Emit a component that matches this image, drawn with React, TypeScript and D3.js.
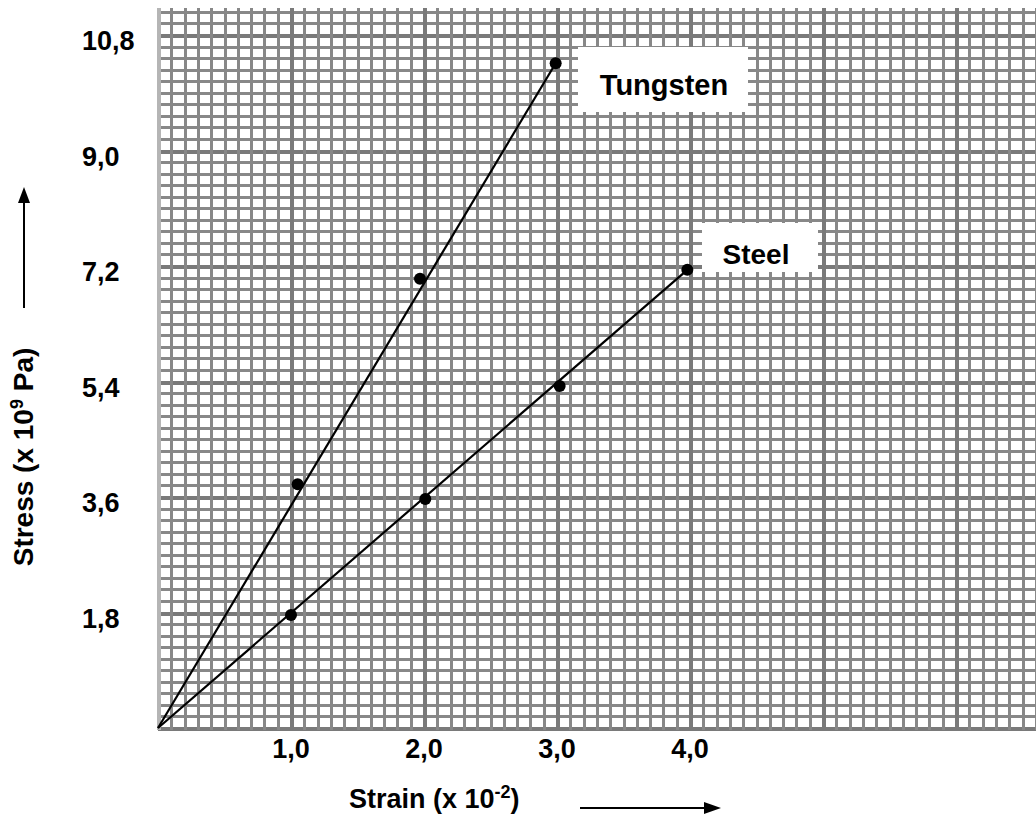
import React from "react";
import * as d3 from "d3";

// ---- data ----
const tungstenStrain = [1.05, 1.97, 2.99];
const tungstenStress = [3.8, 7.0, 10.36];
const steelStrain = [1.0, 2.01, 3.02, 3.98];
const steelStress = [1.76, 3.57, 5.33, 7.14];

const xTickValues = [1, 2, 3, 4];
const xTickLabels = ["1,0", "2,0", "3,0", "4,0"];
const yTickValues = [1.8, 3.6, 5.4, 7.2, 9.0, 10.8];
const yTickLabels = ["1,8", "3,6", "5,4", "7,2", "9,0", "10,8"];

const seriesNames = ["Tungsten", "Steel"];

const W = 1036;
const H = 823;
const FONT = "'Liberation Sans', Arial, sans-serif";

export default function App() {
  const x = d3.scaleLinear().domain([0, 6.6]).range([158, 158 + 6.6 * 133]);
  const y = d3.scaleLinear().domain([0, 10.8]).range([728, 35]);
  const gridTop = 8;

  const vLines = d3.range(0, 67);
  const hLines = d3.range(0, 63);

  const line = d3
    .line<[number, number]>()
    .x((d) => x(d[0]))
    .y((d) => y(d[1]));

  const series = [
    { name: seriesNames[0], xs: tungstenStrain, ys: tungstenStress },
    { name: seriesNames[1], xs: steelStrain, ys: steelStress },
  ];

  const boxes = [
    { name: seriesNames[0], x0: 578, x1: 748, y0: 47, y1: 112, tx: 664, ty: 95, fs: 29 },
    { name: seriesNames[1], x0: 702, x1: 818, y0: 223, y1: 272, tx: 756, ty: 264, fs: 28 },
  ];

  const gridColor = "#888888";

  return (
    <svg
      width={W}
      height={H}
      style={{ position: "absolute", left: 0, top: 0, background: "#fff" }}
      fontFamily={FONT}
    >
      <rect x={0} y={0} width={W} height={H} fill="#fff" />
      {/* grid */}
      <g shapeRendering="crispEdges">
        {hLines.map((j) => {
          const yy = Math.round(y(j * 0.18)) + 0.5;
          const major = j % 10 === 0;
          return (
            <line
              key={"h" + j}
              x1={x(0)}
              x2={W}
              y1={yy}
              y2={yy}
              stroke={major ? "#7a7a7a" : gridColor}
              strokeWidth={major ? 4 : 3}
            />
          );
        })}
        {vLines.map((i) => {
          const xx = Math.round(x(i * 0.1)) + 0.5;
          const major = i % 10 === 0;
          return (
            <line
              key={"v" + i}
              x1={xx}
              x2={xx}
              y1={gridTop}
              y2={Math.round(y(0)) + 2}
              stroke={i === 0 ? "#b5b5b5" : major ? "#7a7a7a" : gridColor}
              strokeWidth={major ? 4 : 3}
            />
          );
        })}
      </g>
      {/* label boxes */}
      {boxes.map((b) => (
        <rect
          key={"b" + b.name}
          x={b.x0}
          y={b.y0}
          width={b.x1 - b.x0}
          height={b.y1 - b.y0}
          fill="#fff"
        />
      ))}
      {boxes.map((b) => (
        <text
          key={"t" + b.name}
          x={b.tx}
          y={b.ty}
          textAnchor="middle"
          fontWeight="bold"
          fontSize={b.fs}
          fill="#000"
        >
          {b.name}
        </text>
      ))}
      {/* lines */}
      {series.map((s) => {
        const n = s.xs.length - 1;
        const pts: [number, number][] = [
          [0, 0],
          [s.xs[n], s.ys[n]],
        ];
        return (
          <path
            key={"l" + s.name}
            d={line(pts) || ""}
            fill="none"
            stroke="#000"
            strokeWidth={2.2}
          />
        );
      })}
      {series.map((s) =>
        s.xs.map((v, i) => (
          <circle
            key={"c" + s.name + i}
            cx={x(v)}
            cy={y(s.ys[i])}
            r={6}
            fill="#000"
          />
        ))
      )}
      {/* tick labels */}
      {xTickValues.map((v, i) => (
        <text
          key={"xt" + i}
          x={x(v)}
          y={758}
          textAnchor="middle"
          fontWeight="bold"
          fontSize={27}
        >
          {xTickLabels[i]}
        </text>
      ))}
      {yTickValues.map((v, i) => (
        <text
          key={"yt" + i}
          x={82}
          y={y(v) + 15}
          textAnchor="start"
          fontWeight="bold"
          fontSize={27}
        >
          {yTickLabels[i]}
        </text>
      ))}
      {/* x title */}
      <text x={349} y={808} fontWeight="bold" fontSize={27}>
        Strain (x 10
        <tspan dy={-10} fontSize={18}>
          -2
        </tspan>
        <tspan dy={10}>)</tspan>
      </text>
      <line x1={580} x2={706} y1={808} y2={808} stroke="#000" strokeWidth={2} />
      <path d="M704,802 L721,808 L704,814 Z" fill="#000" />
      {/* y title */}
      <text
        transform="translate(33,457) rotate(-90)"
        textAnchor="middle"
        fontWeight="bold"
        fontSize={28}
      >
        Stress (x 10
        <tspan dy={-10} fontSize={18}>
          9
        </tspan>
        <tspan dy={10}> Pa)</tspan>
      </text>
      <line x1={24} x2={24} y1={308} y2={200} stroke="#000" strokeWidth={2} />
      <path d="M18,203 L24,187 L30,203 Z" fill="#000" />
    </svg>
  );
}
